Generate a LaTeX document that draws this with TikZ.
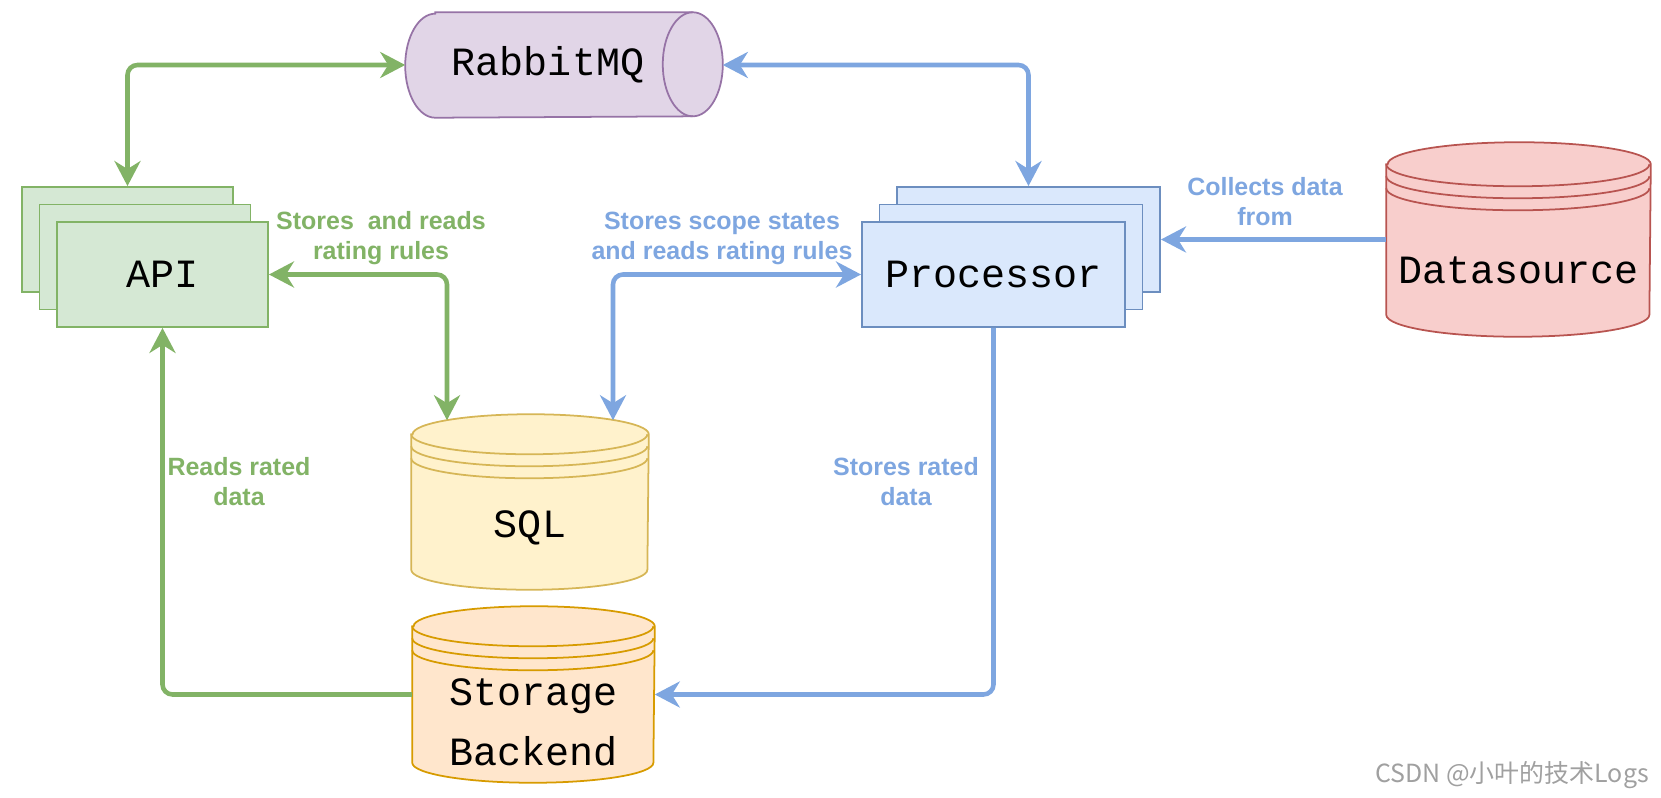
\documentclass[tikz,border=0pt]{standalone}
\usepackage{fontspec}
\setmainfont{Liberation Sans}
\newfontfamily\monofont{Liberation Mono}
\newfontfamily\cjkfont{Noto Sans CJK SC}
\usetikzlibrary{arrows.meta,calc,backgrounds,shadows}

\definecolor{grn}{HTML}{82B366}
\definecolor{grnfill}{HTML}{D5E8D4}
\definecolor{blu}{HTML}{7EA6E0}
\definecolor{bluedge}{HTML}{6C8EBF}
\definecolor{blufill}{HTML}{DAE8FC}
\definecolor{rabedge}{HTML}{9673A6}
\definecolor{rabfill}{HTML}{E1D5E7}
\definecolor{dsedge}{HTML}{B85450}
\definecolor{dsfill}{HTML}{F8CECC}
\definecolor{sqledge}{HTML}{D6B656}
\definecolor{sqlfill}{HTML}{FFF2CC}
\definecolor{stedge}{HTML}{D79B00}
\definecolor{stfill}{HTML}{FFE6CC}
\definecolor{wmgray}{HTML}{A0A0A0}

% datastore drum round a node: name, colours, x radius, y radius
\newcommand{\dbshape}[4]{%
\path[#2,line width=0.5pt] ([yshift=-#4]#1.north west) -- ([yshift=#4]#1.south west)
  arc[start angle=180,end angle=360,x radius=#3,y radius=#4]
  -- ([yshift=-#4]#1.north east)
  arc[start angle=0,end angle=180,x radius=#3,y radius=#4] -- cycle;
\foreach \rim in {0,0.12,0.24}
  \draw[#2,fill=none,line width=0.5pt] ([yshift=-#4-\rim cm]#1.north west)
    arc[start angle=180,end angle=360,x radius=#3,y radius=#4];
}

\begin{document}
\begin{tikzpicture}[x=0.01cm,y=0.01cm,inner sep=1pt,
  mono/.style={font=\monofont\fontsize{11.4}{17}\selectfont},
  box/.style={mono,draw,line width=0.5pt,minimum height=1.05cm},
  db/.style={inner sep=0pt},
  lbl/.style={font=\bfseries\fontsize{7.1}{8.5}\selectfont,align=center},
  flow/.style={line width=1.3pt,rounded corners=0.1cm,
    >={Stealth[length=0.25cm,width=0.26cm,inset=0.08cm]}}]
\useasboundingbox (0,0) rectangle (1661,797);
%
\node[box,fill=grnfill,draw=grn,minimum width=2.11cm,
  copy shadow={shadow xshift=-0.35cm,shadow yshift=0.35cm},
  copy shadow={shadow xshift=-0.175cm,shadow yshift=0.175cm}] (api) at (162.5,522.5) {API};
\node[box,fill=blufill,draw=bluedge,minimum width=2.63cm,
  copy shadow={shadow xshift=0.35cm,shadow yshift=0.35cm},
  copy shadow={shadow xshift=0.175cm,shadow yshift=0.175cm}] (proc) at (993.5,522.5) {Processor};
%
\node[db,minimum width=3.16cm,minimum height=1.04cm,
  label={[mono,xshift=-0.16cm]center:RabbitMQ}] (rabbit) at (564,732) {};
\node[db,minimum width=2.63cm,minimum height=1.93cm,
  label={[mono,yshift=-0.305cm]center:Datasource}] (ds) at (1518.5,557.5) {};
\node[db,minimum width=2.36cm,minimum height=1.74cm,
  label={[mono,yshift=-0.26cm]center:SQL}] (sql) at (530,295) {};
\node[db,minimum width=2.41cm,minimum height=1.75cm,
  label={[mono,align=center,yshift=-0.275cm]center:{Storage\\Backend}}] (store) at (533.5,102.5) {};
%
\begin{scope}[on background layer]
\path[fill=rabfill,draw=rabedge,line width=0.5pt] ([xshift=0.3cm]rabbit.north west)
  -- ([xshift=-0.3cm]rabbit.north east) arc[start angle=90,end angle=-90,x radius=0.3cm,y radius=0.52cm]
  -- ([xshift=0.3cm]rabbit.south west) arc[start angle=270,end angle=90,x radius=0.3cm,y radius=0.52cm]
  -- cycle;
\draw[rabedge,line width=0.5pt] ([xshift=-0.3cm]rabbit.north east)
  arc[start angle=90,end angle=270,x radius=0.3cm,y radius=0.52cm];
\dbshape{ds}{fill=dsfill,draw=dsedge}{1.315cm}{0.22cm}
\dbshape{sql}{fill=sqlfill,draw=sqledge}{1.18cm}{0.2cm}
\dbshape{store}{fill=stfill,draw=stedge}{1.205cm}{0.2cm}
\end{scope}
%
\draw[flow,grn,<->] ($(api.north)+(-35,35)$) |- (rabbit.west);
\draw[flow,blu,<->] (rabbit.east) -| ($(proc.north)+(35,35)$);
\draw[flow,blu,->] (ds.west) -- ($(proc.east)+(35,35)$);
\draw[flow,grn,<->] (api.east) -| ($(sql.north)+(-83,-6)$);
\draw[flow,blu,<->] ($(sql.north)+(83,-6)$) |- (proc.west);
\draw[flow,blu,->] (proc.south) |- (store.east);
\draw[flow,grn,->] (store.west) -| (api.south);
%
\node[lbl,text=grn] (lapi) at (381,559) {Stores~ and reads\\rating rules};
\node[lbl,text=blu] (lproc) at (722,559) {Stores scope states\\and reads rating rules};
\node[lbl,text=grn] (lread) at (239,315) {Reads rated\\data};
\node[lbl,text=blu] (lstore) at (906,315) {Stores rated\\data};
\node[lbl,text=blu] (lcoll) at (1265,595.5) {Collects data\\from};
\node[text=wmgray,font=\cjkfont\fontsize{7.1}{8.5}\selectfont] (mark) at (1512,22) {CSDN @小叶的技术Logs};
\end{tikzpicture}
\end{document}
